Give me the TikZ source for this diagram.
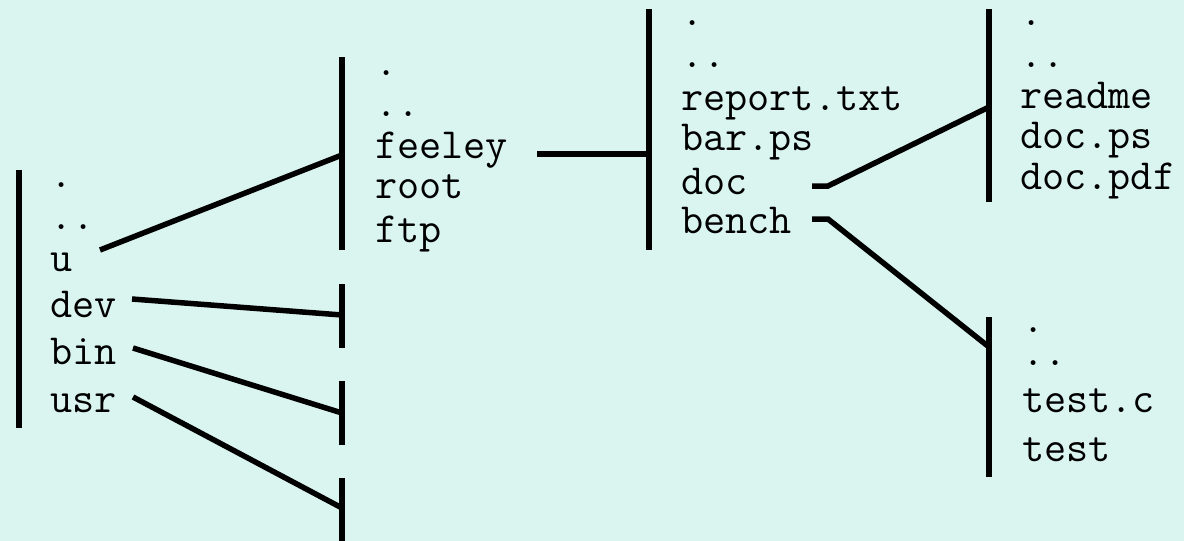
\documentclass[tikz,border=0pt]{standalone}
\usepackage{fontspec}
\definecolor{bgc}{RGB}{218,245,240}
\tikzset{
  fname/.style={anchor=base west, inner sep=0pt, font=\ttfamily\fontsize{43}{46}\selectfont},
  bar/.style={line width=5.5pt},
  link/.style={line width=5.5pt, line join=miter}
}
\begin{document}
\begin{tikzpicture}[x=1pt,y=-1pt]
\fill[bgc] (0,0) rectangle (1184,541);
\useasboundingbox (0,0) rectangle (1184,541);
% directory 1
\node[fname] (d1a) at (50,187) {.};
\node[fname] (d1b) at (50,229) {..};
\node[fname] (u) at (50,271) {u};
\node[fname] (dev) at (50,317) {dev};
\node[fname] (bin) at (50,364) {bin};
\node[fname] (usr) at (50,412) {usr};
% directory 2
\node[fname] (d2a) at (375,75) {.};
\node[fname] (d2b) at (375,116) {..};
\node[fname] (feeley) at (375,158) {feeley};
\node[fname] (root) at (375,198) {root};
\node[fname] (ftp) at (375,242) {ftp};
% directory 3
\node[fname] (d3a) at (681,25) {.};
\node[fname] (d3b) at (681,67) {..};
\node[fname] (report) at (681,110) {report.txt};
\node[fname] (barps) at (681,150) {bar.ps};
\node[fname] (doc) at (681,194) {doc};
\node[fname] (bench) at (681,233) {bench};
% directory 4
\node[fname] (d4a) at (1020,25) {.};
\node[fname] (d4b) at (1020,67) {..};
\node[fname] (readme) at (1020,108) {readme};
\node[fname] (docps) at (1020,148) {doc.ps};
\node[fname] (docpdf) at (1020,189) {doc.pdf};
% directory 5
\node[fname] (d5a) at (1022,332) {.};
\node[fname] (d5b) at (1022,365) {..};
\node[fname] (testc) at (1022,412) {test.c};
\node[fname] (test) at (1022,461) {test};
% bars
\coordinate (b1t) at (19,170); \coordinate (b1b) at (19,428);
\coordinate (b2t) at (342,57); \coordinate (b2b) at (342,250);
\coordinate (b3t) at (342,284); \coordinate (b3b) at (342,348);
\coordinate (b4t) at (342,381); \coordinate (b4b) at (342,445);
\coordinate (b5t) at (342,478); \coordinate (b5b) at (342,541);
\coordinate (b6t) at (649,9); \coordinate (b6b) at (649,250);
\coordinate (b7t) at (989,9); \coordinate (b7b) at (989,202);
\coordinate (b8t) at (989,317); \coordinate (b8b) at (989,477);
\foreach \i in {1,...,8} \draw[bar] (b\i t) -- (b\i b);
% connector ends
\coordinate (u-o) at (100,250); \coordinate (u-i) at (342,155);
\coordinate (dev-o) at (132,299); \coordinate (dev-i) at (342,315);
\coordinate (bin-o) at (133,348); \coordinate (bin-i) at (342,413);
\coordinate (usr-o) at (133,397); \coordinate (usr-i) at (342,508);
\coordinate (fe-o) at (537,154); \coordinate (fe-i) at (649,154);
\coordinate (doc-o) at (812,186); \coordinate (doc-k) at (828,186); \coordinate (doc-i) at (989,107);
\coordinate (be-o) at (812,219); \coordinate (be-k) at (828,219); \coordinate (be-i) at (989,347);
\draw[link] (u-o) -- (u-i);
\draw[link] (dev-o) -- (dev-i);
\draw[link] (bin-o) -- (bin-i);
\draw[link] (usr-o) -- (usr-i);
\draw[link] (fe-o) -- (fe-i);
\draw[link] (doc-o) -- (doc-k) -- (doc-i);
\draw[link] (be-o) -- (be-k) -- (be-i);
\end{tikzpicture}
\end{document}
